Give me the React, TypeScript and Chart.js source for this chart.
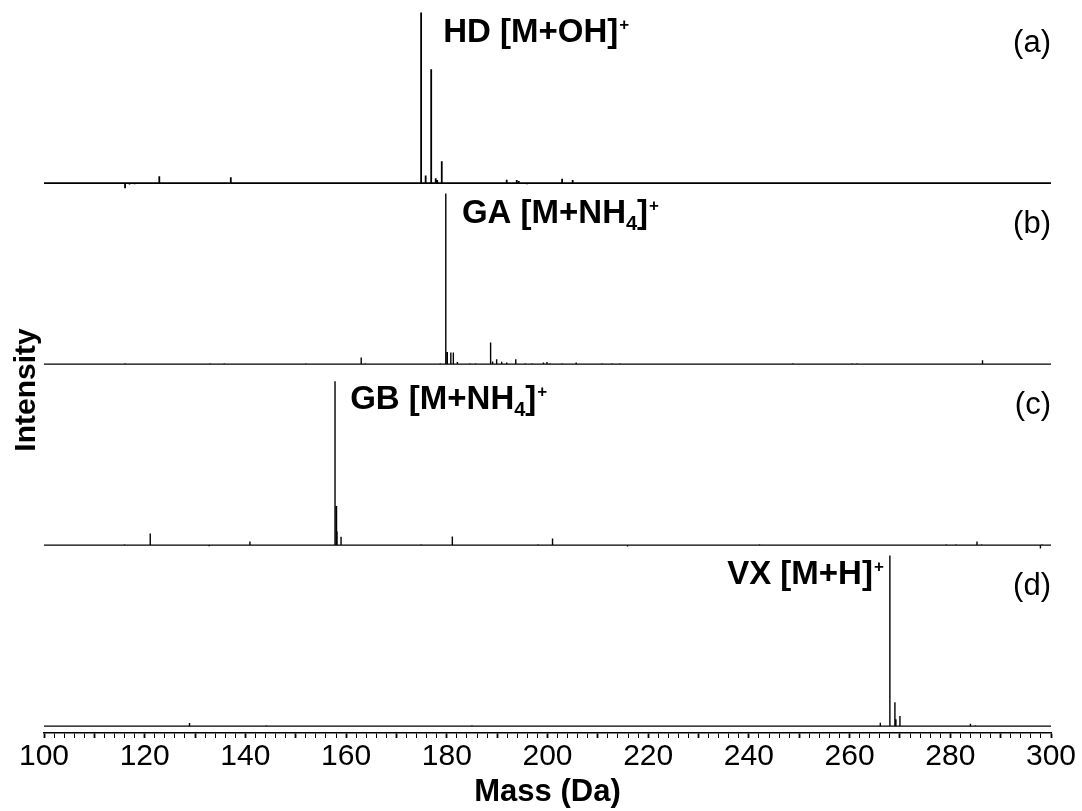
import React, { useEffect, useRef } from 'react';
import { Chart, registerables } from 'chart.js';

Chart.register(...registerables);

// ---------- data ----------
const massRange = [100, 300];
const tickStep = 2;
const labelStep = 20;

// (a) HD
const hdMass = [116.1, 117.0, 118.0, 122.9, 124.8, 137.1, 151.2, 157.0, 158.0, 174.9, 175.8, 176.9, 177.8, 178.1, 179.0, 179.7, 185.0, 191.9, 193.9, 194.3, 195.9, 202.9, 205.0, 213.8, 221.0, 254.7, 293.7];
const hdInt = [-3, -0.8, -0.6, 4.1, 0.6, 3.5, 0.6, 0.5, 0.6, 100, 4.5, 66.7, 2.9, 1.8, 12.9, 0.6, 0.5, 2.0, 1.8, 1.2, -0.6, 2.6, 1.8, 0.5, 0.6, 0.6, 0.6];

// (b) GA
const gaMass = [116.1, 133.0, 135.8, 141.9, 143.9, 145.9, 152.0, 163.0, 163.8, 171.9, 173.9, 178.7, 179.8, 180.1, 180.8, 181.3, 182.1, 184.6, 185.7, 188.7, 189.1, 189.9, 190.9, 191.9, 193.7, 195.6, 196.9, 199.2, 199.9, 200.5, 202.9, 205.7, 210.8, 212.8, 214.4, 248.7, 260.5, 261.5, 286.4];
const gaInt = [0.6, 0.5, 0.6, 0.4, 0.4, 0.4, 0.5, 3.9, 0.6, 0.4, 0.4, 0.6, 100, 7.2, 6.8, 6.8, 1.2, 0.5, 0.5, 12.7, 1.5, 2.9, 1.4, 1.0, 2.9, 0.6, 0.6, 1.0, 1.2, 0.6, 0.6, 1.0, 0.5, 0.5, 0.5, 0.5, 0.6, 0.5, 2.3];

// (c) GB
const gbMass = [116.0, 121.1, 132.8, 140.9, 157.8, 158.1, 158.2, 159.0, 174.9, 181.1, 198.1, 201.0, 215.9, 242.1, 279.2, 281.1, 285.3, 286.2, 297.9, 298.2];
const gbInt = [0.5, 6.8, -0.6, 2.1, 96, 23, 8, 4.9, 0.5, 5.1, 0.6, 3.9, -0.8, 0.5, 0.6, 0.6, 2.1, 0.6, -2, 0.6];

// (d) VX
const vxMass = [128.9, 144.2, 185.0, 266.1, 268.0, 269.0, 269.2, 270.0, 284.0, 285.0];
const vxInt = [1.9, 0.5, 0.5, 2.0, 100, 14, 4, 6, 1.4, 0.6];

const panelTags = ['(a)', '(b)', '(c)', '(d)'];
const peakLabels = [
  [{ t: 'HD [M+OH]' }, { t: '+', k: 'sup' }],
  [{ t: 'GA [M+NH' }, { t: '4', k: 'sub' }, { t: ']' }, { t: '+', k: 'sup' }],
  [{ t: 'GB [M+NH' }, { t: '4', k: 'sub' }, { t: ']' }, { t: '+', k: 'sup' }],
  [{ t: 'VX [M+H]' }, { t: '+', k: 'sup' }],
];
const labelMass = [179.3, 183.0, 160.8, 266.8];
const labelInt = [89.6, 89.6, 86.5, 90];
const labelAlign = ['left', 'left', 'left', 'right'];
const xTitle = 'Mass (Da)';
const yTitle = 'Intensity';

// ---------- helpers ----------
const FAMILY = '"Liberation Sans", Arial, Helvetica, sans-serif';
const axisIds = ['yA', 'yB', 'yC', 'yD'];

function spectrum(mass: number[], inten: number[]) {
  const pts: { x: number; y: number }[] = [{ x: massRange[0], y: 0 }];
  mass.forEach((m, i) => {
    pts.push({ x: m, y: 0 }, { x: m, y: inten[i] }, { x: m, y: 0 });
  });
  pts.push({ x: massRange[1], y: 0 });
  return pts;
}

function drawRich(ctx: CanvasRenderingContext2D, segs: any[], x: number, yMid: number, align: string) {
  const main = 33;
  const fontFor = (k?: string) =>
    `bold ${k === 'sup' ? 17 : k === 'sub' ? 20 : main}px ${FAMILY}`;
  let w = 0;
  segs.forEach((s) => {
    ctx.font = fontFor(s.k);
    w += ctx.measureText(s.t).width + (s.k === 'sup' ? 1 : 0);
  });
  let cx = align === 'right' ? x - w : x;
  const base = yMid + (main * 0.716) / 2;
  ctx.textAlign = 'left';
  ctx.textBaseline = 'alphabetic';
  segs.forEach((s) => {
    ctx.font = fontFor(s.k);
    const dy = s.k === 'sup' ? -12 : s.k === 'sub' ? 7 : 0;
    if (s.k === 'sup') cx += 1;
    ctx.fillText(s.t, cx, base + dy);
    cx += ctx.measureText(s.t).width;
  });
}

const annotationPlugin = {
  id: 'specAnnotations',
  afterDatasetsDraw(chart: any) {
    const ctx = chart.ctx as CanvasRenderingContext2D;
    const xs = chart.scales.x;
    const area = chart.chartArea;
    ctx.save();
    ctx.fillStyle = '#000';
    axisIds.forEach((id, i) => {
      const ys = chart.scales[id];
      drawRich(ctx, peakLabels[i], xs.getPixelForValue(labelMass[i]), ys.getPixelForValue(labelInt[i]), labelAlign[i]);
      ctx.font = `31px ${FAMILY}`;
      ctx.textAlign = 'right';
      ctx.textBaseline = 'middle';
      ctx.fillText(panelTags[i], area.right, ys.getPixelForValue(82));
    });
    // y-axis title
    ctx.save();
    ctx.translate(27, 390);
    ctx.rotate(-Math.PI / 2);
    ctx.font = `bold 30px ${FAMILY}`;
    ctx.textAlign = 'center';
    ctx.textBaseline = 'middle';
    ctx.fillText(yTitle, 0, 0);
    ctx.restore();
    ctx.restore();
  },
};

export default function App() {
  const ref = useRef<HTMLCanvasElement | null>(null);

  useEffect(() => {
    if (!ref.current) return;
    const series = [
      spectrum(hdMass, hdInt),
      spectrum(gaMass, gaInt),
      spectrum(gbMass, gbInt),
      spectrum(vxMass, vxInt),
    ];
    // stacked left axes are laid out bottom-up in definition order,
    // so define the bottom panel first
    const yScales: any = {};
    [...axisIds].reverse().forEach((id) => {
      yScales[id] = {
        type: 'linear',
        position: 'left',
        stack: 'spectra',
        stackWeight: 1,
        min: -4,
        max: 102,
        afterFit: (s: any) => {
          s.width = 0;
        },
        grid: { display: false, drawTicks: false },
        border: { display: false },
        ticks: { display: false },
      };
    });

    const chart = new Chart(ref.current, {
      type: 'line',
      data: {
        datasets: series.map((pts, i) => ({
          data: pts,
          yAxisID: axisIds[i],
          borderColor: '#000',
          borderWidth: i === 0 ? 1.8 : 1.4,
          pointRadius: 0,
          tension: 0,
          fill: false,
        })),
      },
      options: {
        animation: false,
        responsive: false,
        devicePixelRatio: 1,
        events: [],
        layout: { padding: { left: 44, right: 31, top: 9, bottom: 0 } },
        plugins: { legend: { display: false }, tooltip: { enabled: false } },
        scales: {
          x: {
            type: 'linear',
            min: massRange[0],
            max: massRange[1],
            afterBuildTicks: (s: any) => {
              const t = [];
              for (let v = massRange[0]; v <= massRange[1]; v += tickStep) t.push({ value: v });
              s.ticks = t;
            },
            afterFit: (s: any) => {
              s.height = 78;
            },
            border: { display: true, color: '#000', width: 1.5 },
            grid: {
              display: true,
              drawOnChartArea: false,
              drawTicks: true,
              tickLength: 5,
              color: '#000',
              tickWidth: (c: any) => (c.tick && c.tick.value % 10 === 0 ? 1.8 : 1),
            },
            ticks: {
              autoSkip: false,
              maxRotation: 0,
              minRotation: 0,
              padding: 1,
              color: '#000',
              font: { family: FAMILY, size: 30 },
              callback: (v: any) => (Number(v) % labelStep === 0 ? String(v) : ''),
            },
            title: {
              display: true,
              text: xTitle,
              color: '#000',
              font: { family: FAMILY, size: 31, weight: 'bold' },
              padding: { top: 0, bottom: 0 },
            },
          },
          ...yScales,
        },
      } as any,
      plugins: [annotationPlugin],
    });
    return () => chart.destroy();
  }, []);

  return (
    <div style={{ position: 'absolute', left: 0, top: 0, width: 1082, height: 811, background: '#fff' }}>
      <canvas ref={ref} width={1082} height={811} style={{ display: 'block' }} />
    </div>
  );
}
